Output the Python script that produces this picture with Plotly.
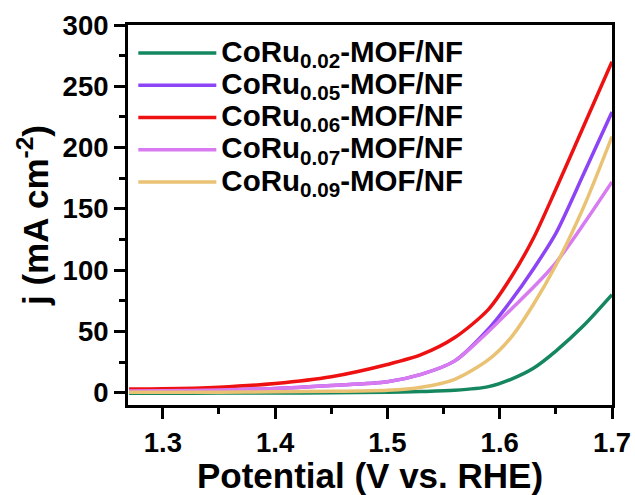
import plotly.graph_objects as go

potential = [1.27, 1.30, 1.35, 1.40, 1.45, 1.50, 1.53, 1.56, 1.59, 1.61, 1.63, 1.65, 1.675, 1.70]
j_002 = [-0.5, -0.4, -0.3, -0.2, 0.0, 0.5, 1.0, 2.0, 5.0, 11, 20, 34, 55, 80]
j_005 = [1.5, 1.6, 2.2, 3.5, 6.0, 9.0, 15, 26, 52, 75, 101, 130, 179, 229]
j_006 = [3.0, 3.2, 4.5, 7.5, 13, 23, 31, 45, 68, 94, 126, 166, 218, 270]
j_007 = [1.5, 1.6, 2.2, 3.5, 6.0, 9.0, 15, 26, 50, 68, 86, 106, 138, 172]
j_009 = [0.3, 0.3, 0.5, 0.8, 1.2, 2.0, 4.5, 11, 27, 45, 72, 104, 152, 209]

subs = ["0.02", "0.05", "0.06", "0.07", "0.09"]
series = [j_002, j_005, j_006, j_007, j_009]
colors = ["#15875f", "#8c44f5", "#ee1111", "#d87af0", "#e9c273"]

fig = go.Figure()
for s, ys, c in zip(subs, series, colors):
    label = f"<span style='font-size:29.5px'>CoRu<sub>{s}</sub>-MOF/NF</span>"
    fig.add_trace(go.Scatter(x=potential, y=ys, name=label, mode="lines",
                             line=dict(color=c, width=3.5, shape="spline", smoothing=0.8)))

font_family = "Liberation Sans, Arial, sans-serif"
axis_common = dict(showline=True, linecolor="black", linewidth=3, mirror=True,
                   ticks="outside", tickwidth=3, ticklen=11, tickcolor="black",
                   showgrid=False, zeroline=False, automargin=False,
                   tickfont=dict(family=font_family, size=27.5, color="black", weight="bold"))

fig.update_layout(
    width=635, height=495,
    margin=dict(l=128, r=23, t=25, b=90),
    plot_bgcolor="white", paper_bgcolor="white",
    showlegend=True,
    legend=dict(x=0.011, y=0.982, xanchor="left", yanchor="top",
                bgcolor="rgba(0,0,0,0)", itemwidth=78, tracegroupgap=0,
                font=dict(family=font_family, size=22.5, color="black", weight="bold")),
    xaxis=dict(range=[1.269, 1.7], tickvals=[1.3, 1.4, 1.5, 1.6, 1.7],
               ticktext=["1.3", "1.4", "1.5", "1.6", "1.7"],
               minor=dict(ticks="outside", tickvals=[1.35, 1.45, 1.55, 1.65], ticklen=6,
                          tickwidth=3, tickcolor="black"),
               title=dict(text="Potential (V vs. RHE)", standoff=0,
                          font=dict(family=font_family, size=35, color="black", weight="bold")),
               **axis_common),
    yaxis=dict(range=[-10, 300], tickvals=[0, 50, 100, 150, 200, 250, 300],
               minor=dict(ticks="outside", tickvals=[25, 75, 125, 175, 225, 275], ticklen=6,
                          tickwidth=3, tickcolor="black"),
               title=dict(text="j (mA cm<sup>-2</sup>)", standoff=4,
                          font=dict(family=font_family, size=35, color="black", weight="bold")),
               **axis_common),
)

fig.write_html("out.html")
